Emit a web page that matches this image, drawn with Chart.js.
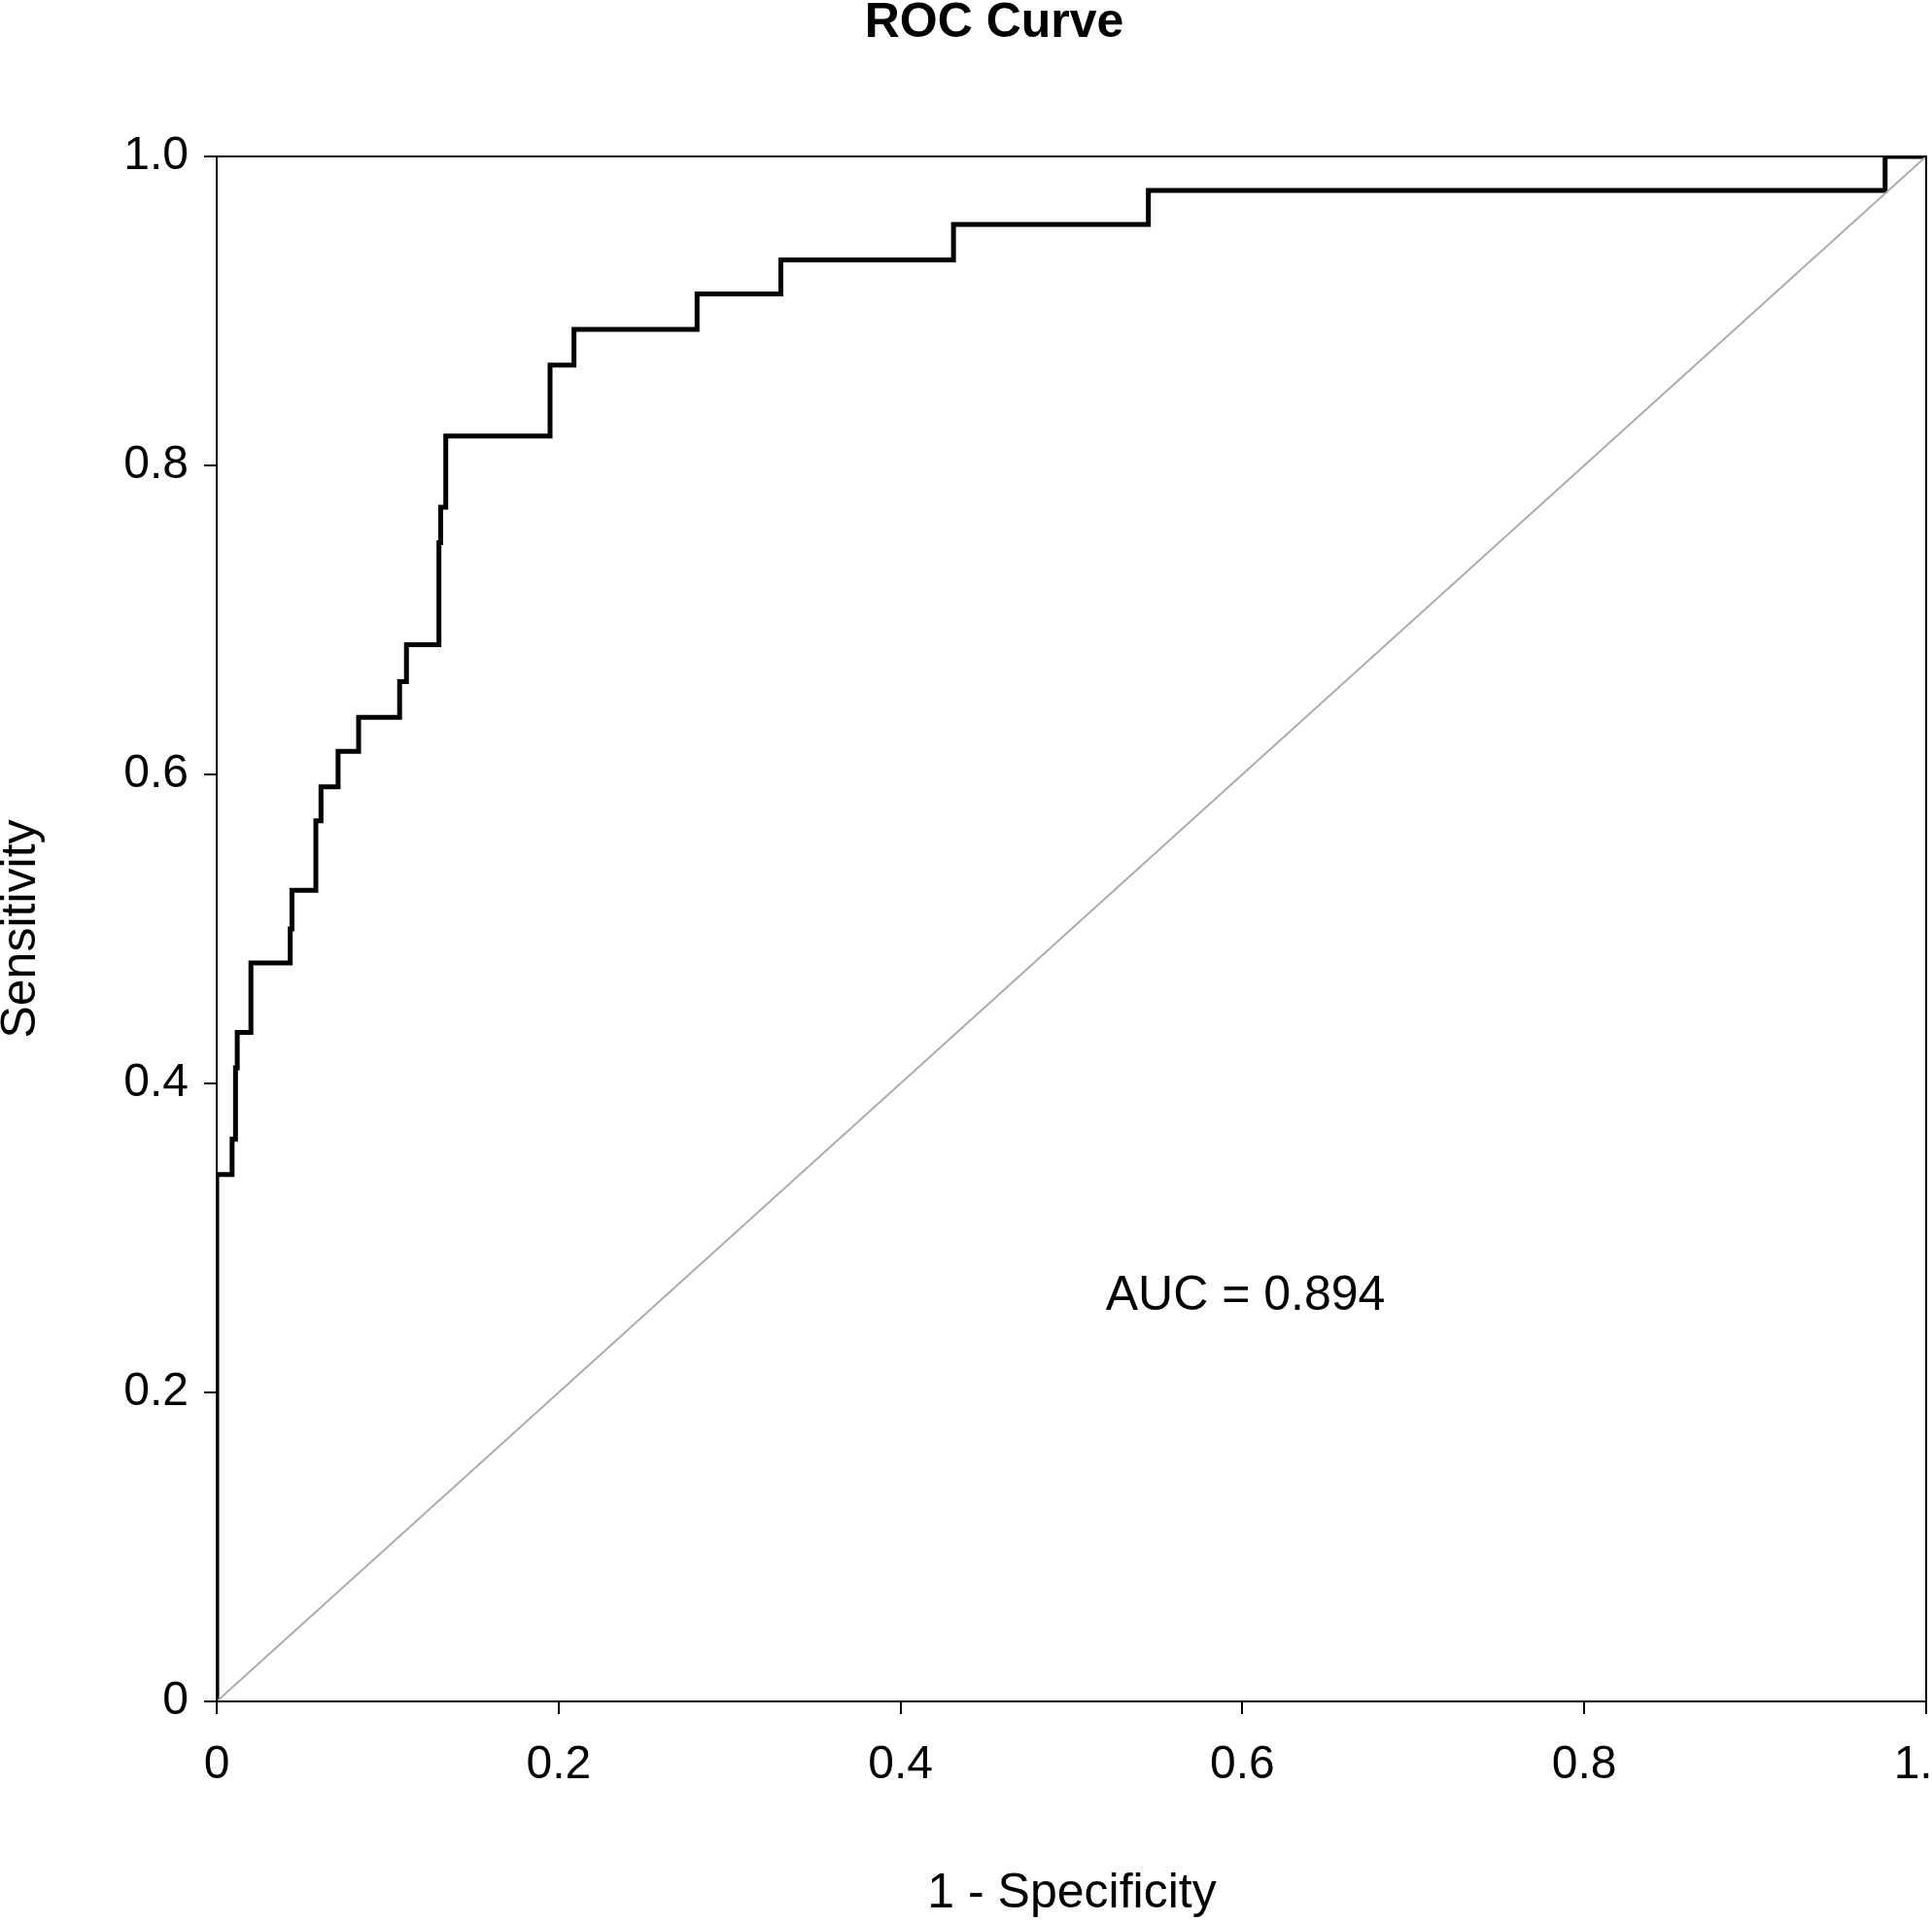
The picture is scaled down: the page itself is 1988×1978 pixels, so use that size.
<!DOCTYPE html>
<html>
<head>
<meta charset="utf-8">
<script src="https://cdn.jsdelivr.net/npm/chart.js@4"></script>
<style>
  body { margin: 0; background: #fff; }
  canvas { display: block; }
</style>
</head>
<body>
<canvas id="roc" width="1988" height="1978"></canvas>
<script>
'use strict';

// step corners of the ROC curve (1 - specificity, sensitivity)
let fpr = [0, 0, 0.009, 0.011, 0.012, 0.02, 0.043, 0.044, 0.058, 0.061, 0.071, 0.083, 0.107, 0.111, 0.13, 0.131, 0.134, 0.195, 0.209, 0.281, 0.33, 0.431, 0.545, 0.976, 1];
let tpr = [0, 0.341, 0.364, 0.410, 0.433, 0.478, 0.500, 0.525, 0.570, 0.592, 0.615, 0.637, 0.660, 0.684, 0.750, 0.773, 0.819, 0.865, 0.888, 0.911, 0.933, 0.956, 0.978, 1.0, 1.0];
let tickValues = [0, 0.2, 0.4, 0.6, 0.8, 1];
let chartTitle = 'ROC Curve';
let xTitle = '1 - Specificity';
let yTitle = 'Sensitivity';
let aucText = 'AUC = 0.894';
let aucPos = [0.52, 0.262];

let rocPoints = [];
for (let i = 0; i < fpr.length; i++) {
  rocPoints.push({ x: fpr[i], y: tpr[i] });
}

const font = 'Liberation Sans, Arial, sans-serif';

const extras = {
  id: 'extras',
  afterDraw(chart) {
    const ctx = chart.ctx;
    const a = chart.chartArea;
    const xs = chart.scales.x;
    const ys = chart.scales.y;
    ctx.save();
    ctx.strokeStyle = '#000';
    ctx.lineWidth = 2;
    ctx.strokeRect(a.left, a.top, a.right - a.left, a.bottom - a.top);
    ctx.fillStyle = '#000';
    ctx.textAlign = 'center';
    ctx.textBaseline = 'middle';
    ctx.font = 'bold 50px ' + font;
    ctx.fillText(chartTitle, 1023, 24);
    ctx.font = '50px ' + font;
    ctx.fillText(xTitle, 1103, 1949);
    ctx.save();
    ctx.translate(22, 956);
    ctx.rotate(-Math.PI / 2);
    ctx.fillText(yTitle, 0, 0);
    ctx.restore();
    ctx.textAlign = 'left';
    ctx.fillText(aucText, xs.getPixelForValue(aucPos[0]), ys.getPixelForValue(aucPos[1]));
    ctx.restore();
  }
};

const axisCommon = {
  type: 'linear',
  min: 0,
  max: 1,
  afterBuildTicks: (s) => { s.ticks = tickValues.map(v => ({ value: v })); },
  grid: { display: true, drawOnChartArea: false, drawTicks: true, tickLength: 13, color: '#000', lineWidth: 2 },
  border: { display: true, color: '#000', width: 2 }
};

new Chart(document.getElementById('roc'), {
  type: 'scatter',
  data: {
    datasets: [
      {
        data: [{ x: 0, y: 0 }, { x: 1, y: 1 }],
        showLine: true,
        borderColor: '#aaaaaa',
        borderWidth: 2,
        pointRadius: 0
      },
      {
        data: rocPoints,
        showLine: true,
        stepped: 'before',
        borderColor: '#000',
        borderWidth: 5,
        pointRadius: 0
      }
    ]
  },
  options: {
    responsive: false,
    animation: false,
    layout: { padding: { top: 161, right: 6, left: 0, bottom: 0 } },
    plugins: { legend: { display: false }, tooltip: { enabled: false }, title: { display: false } },
    scales: {
      x: Object.assign({}, axisCommon, {
        afterFit: (s) => { s.height = 227; s.paddingRight = 0; s.paddingLeft = 0; },
        ticks: { color: '#000', font: { size: 48, family: font }, padding: 24, maxRotation: 0 }
      }),
      y: Object.assign({}, axisCommon, {
        afterFit: (s) => { s.width = 223; s.paddingTop = 0; s.paddingBottom = 0; },
        ticks: { color: '#000', font: { size: 48, family: font }, padding: 16 }
      })
    }
  },
  plugins: [extras]
});
</script>
</body>
</html>
